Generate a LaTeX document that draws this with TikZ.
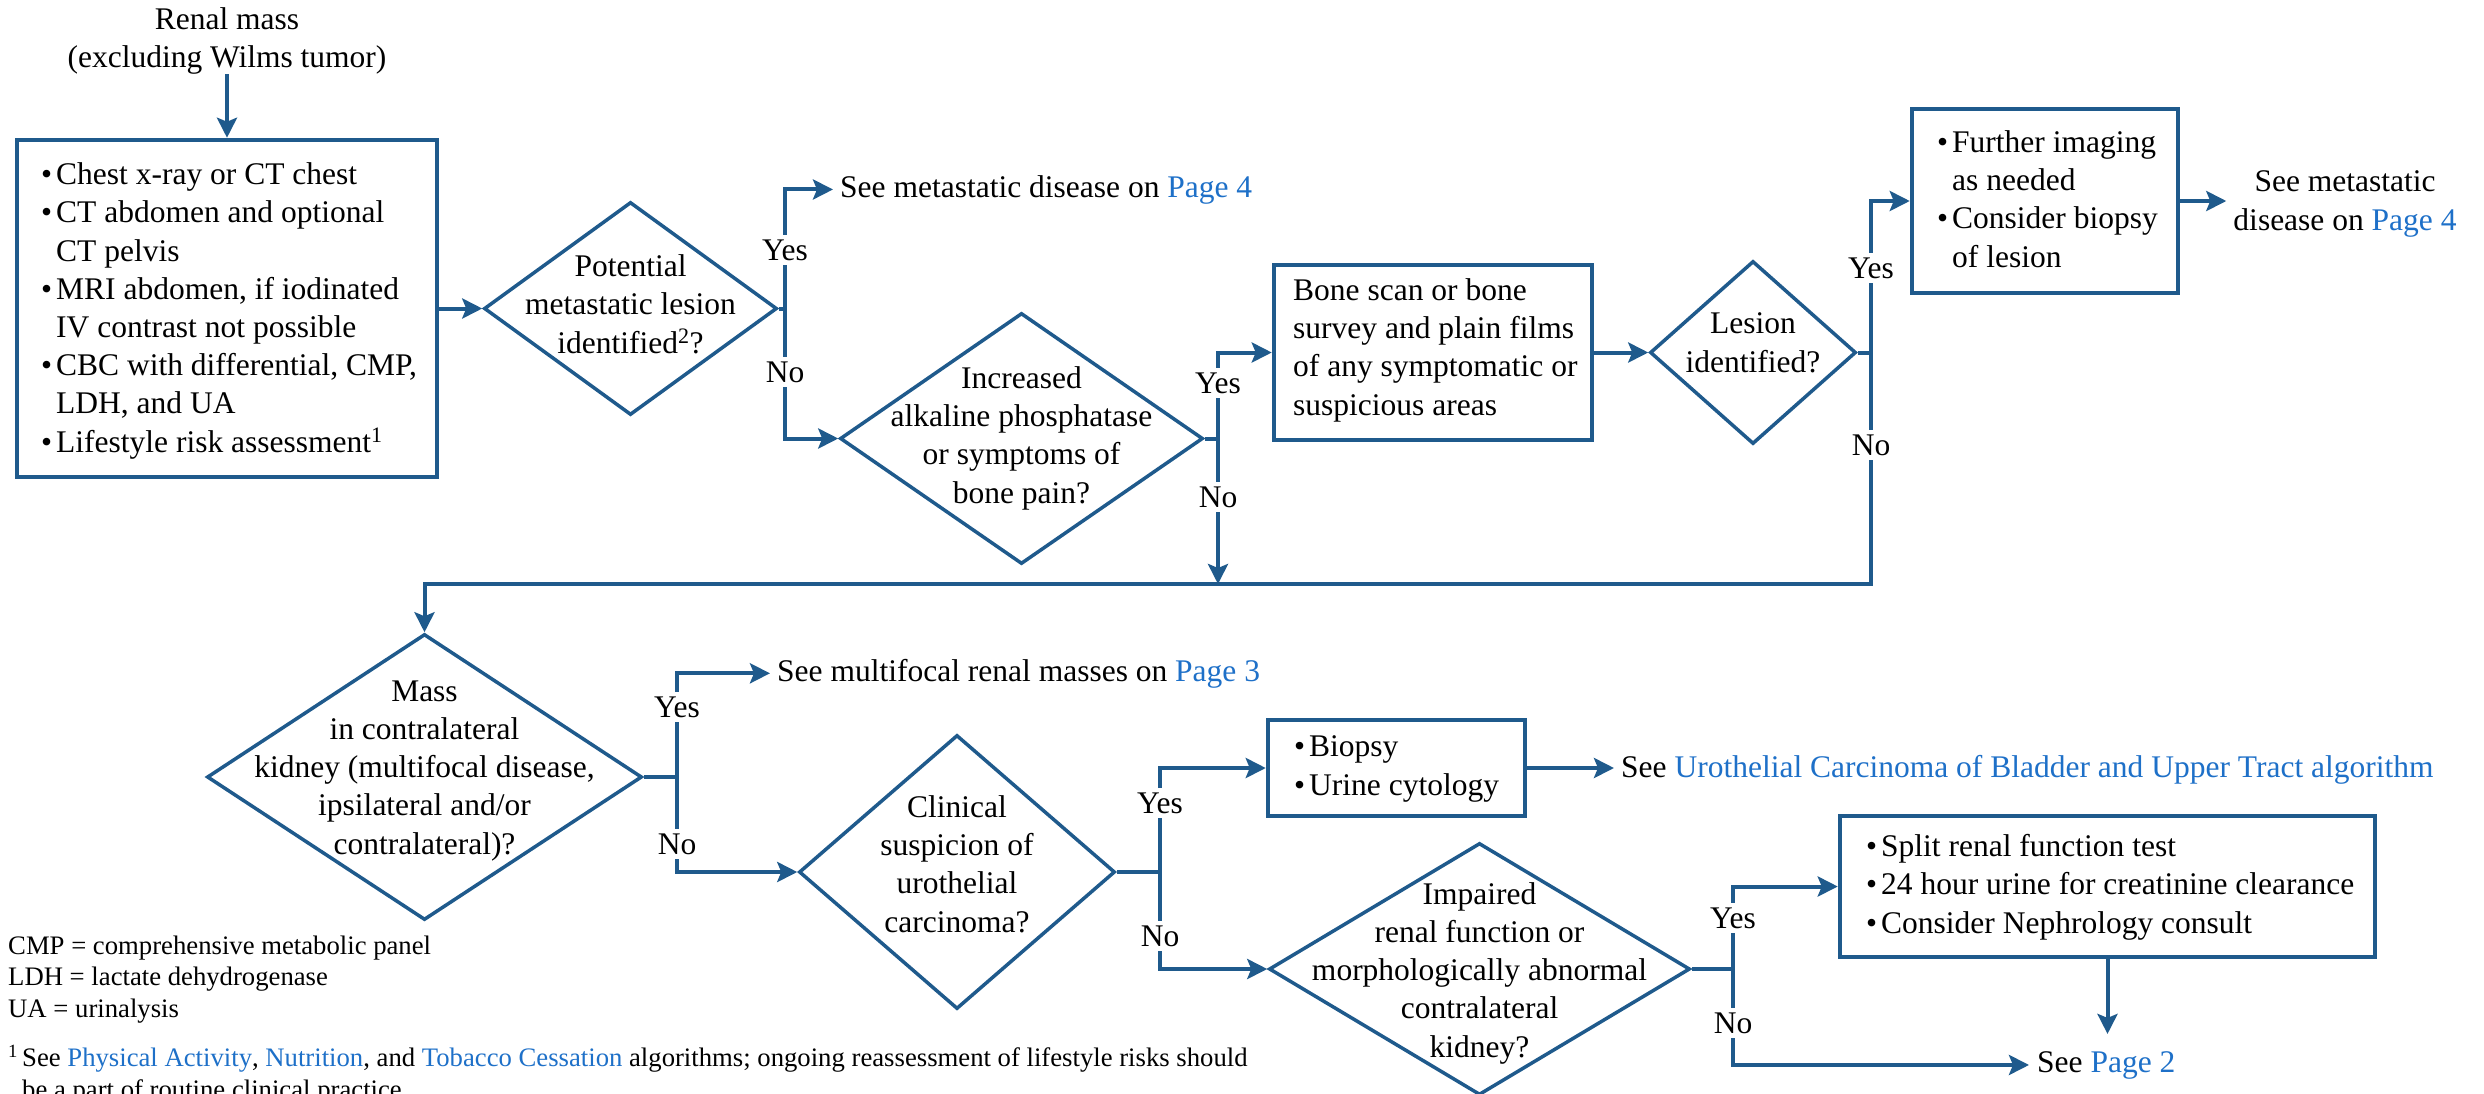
\documentclass[tikz,border=0pt]{standalone}
\usepackage{fontspec}
\setmainfont{Liberation Serif}
\usetikzlibrary{shapes.geometric,arrows.meta}
\definecolor{lc}{RGB}{31,90,140}
\definecolor{linkc}{RGB}{30,112,200}
\newcommand\lk[1]{\textcolor{linkc}{#1}}
\newcommand\bul{\makebox[15pt][l]{\textbullet}}
\newcommand\ind{\hspace*{15pt}}
\newcommand\mainsz{\fontsize{31.5pt}{38.2pt}\selectfont}
\newcommand\notesz{\fontsize{26.7pt}{31.5pt}\selectfont}

\begin{document}
\begin{tikzpicture}[x=1pt,y=-1pt,
  ln/.style={draw=lc, line width=4pt},
  arr/.style={draw=lc, line width=4pt, -{Stealth[length=20pt,width=20pt,inset=4pt]}},
  box/.style={draw=lc, line width=4.5pt, rectangle, inner sep=0pt},
  dia/.style={draw=lc, line width=3.5pt, diamond, inner sep=0pt},
  txt/.style={inner sep=0pt, align=left, font=\mainsz},
  lab/.style={fill=white, inner xsep=2pt, inner ysep=5pt, font=\mainsz}]
\useasboundingbox (0,0) rectangle (2484,1093);
\clip (0,0) rectangle (2484,1093);

% Multi-line text nodes are anchored at the baseline of their last line.

% ---- start and first work-up box
\node[txt, align=center, anchor=base] (start) at (227,67) {Renal mass\\[-1pt](excluding Wilms tumor)};
\node[box, minimum width=420pt, minimum height=337pt] (b1) at (227,308.5) {};
\node[txt, anchor=base west] (t1) at (41,452) {\bul Chest x-ray or CT chest\\ \bul CT abdomen and optional\\ \ind CT pelvis\\ \bul MRI abdomen, if iodinated\\ \ind IV contrast not possible\\ \bul CBC with differential, CMP,\\ \ind LDH, and UA\\ \bul Lifestyle risk assessment\textsuperscript{1}};
\draw[arr] (start.south) -- (b1.north);

% ---- potential metastatic lesion
\node[dia, minimum width=293pt, minimum height=213pt] (d1) at (630.5,308.5) {};
\node[txt, align=center, anchor=base] (d1t) at (630.5,353) {Potential\\metastatic lesion\\identified\textsuperscript{2}?};
\draw[arr] (b1.east) -- (d1.west);
\coordinate (j1) at (785,308.5);
\node[txt, anchor=base west, inner xsep=7pt] (s1) at (833,197) {See metastatic disease on \lk{Page 4}};

% ---- bone involvement
\node[dia, minimum width=363pt, minimum height=251pt] (d2) at (1021.5,438.5) {};
\node[txt, align=center, anchor=base] (d2t) at (1021.5,503) {Increased\\alkaline phosphatase\\or symptoms of\\bone pain?};
\coordinate (j2) at (1218,438.5);
\coordinate (m2) at (1218,584);
\node[box, minimum width=318pt, minimum height=175pt] (b2) at (1433,352.5) {};
\node[txt, anchor=base west] (t2) at (1293,415) {Bone scan or bone\\survey and plain films\\of any symptomatic or\\suspicious areas};

% ---- lesion identified
\node[dia, minimum width=206pt, minimum height=183pt] (d3) at (1753,352.5) {};
\node[txt, align=center, anchor=base] (d3t) at (1753,372) {Lesion\\identified?};
\coordinate (j3) at (1871,352.5);
\node[box, minimum width=266pt, minimum height=184pt] (b3) at (2045,201) {};
\node[txt, anchor=base west] (t3) at (1937,267) {\bul Further imaging\\ \ind as needed\\ \bul Consider biopsy\\ \ind of lesion};
\node[txt, align=center, anchor=base, inner xsep=7pt] (s2) at (2345,230) {See metastatic\\disease on \lk{Page 4}};

% ---- contralateral kidney
\node[dia, minimum width=435pt, minimum height=286pt] (d4) at (424.5,777) {};
\node[txt, align=center, anchor=base] (d4t) at (424.5,854) {Mass\\in contralateral\\kidney (multifocal disease,\\ipsilateral and/or\\contralateral)?};
\coordinate (j4) at (677,777);
\node[txt, anchor=base west, inner xsep=7pt] (s3) at (770,681) {See multifocal renal masses on \lk{Page 3}};

% ---- urothelial carcinoma
\node[dia, minimum width=316pt, minimum height=274pt] (d5) at (957,872) {};
\node[txt, align=center, anchor=base] (d5t) at (957,932) {Clinical\\suspicion of\\urothelial\\carcinoma?};
\coordinate (j5) at (1160,872);
\node[box, minimum width=257pt, minimum height=96pt] (b5) at (1396.5,768) {};
\node[txt, anchor=base west] (t5) at (1294,795) {\bul Biopsy\\ \bul Urine cytology};
\node[txt, anchor=base west, inner xsep=7pt] (s4) at (1614,777) {See \lk{Urothelial Carcinoma of Bladder and Upper Tract algorithm}};

% ---- renal function
\node[dia, minimum width=421pt, minimum height=252pt] (d6) at (1479.5,969) {};
\node[txt, align=center, anchor=base] (d6t) at (1479.5,1057) {Impaired\\renal function or\\morphologically abnormal\\contralateral\\kidney?};
\coordinate (j6) at (1733,969);
\node[box, minimum width=535pt, minimum height=141pt] (b6) at (2107.5,886.5) {};
\node[txt, anchor=base west] (t6) at (1866,933) {\bul Split renal function test\\ \bul 24 hour urine for creatinine clearance\\ \bul Consider Nephrology consult};
\node[txt, anchor=base west, inner xsep=8pt, inner ysep=17pt] (s5) at (2029,1072) {See \lk{Page 2}};

% ---- connectors
\draw[ln] (d1.east) -- (j1);
\draw[arr] (j1) |- (s1.west);
\draw[arr] (j1) |- (d2.west);
\draw[ln] (d2.east) -- (j2);
\draw[arr] (j2) |- (b2.west);
\draw[arr] (j2) -- (m2);
\draw[arr] (b2.east) -- (d3.west);
\draw[ln] (d3.east) -- (j3);
\draw[arr] (j3) |- (b3.west);
\draw[arr] (j3) -- (j3 |- m2) -| (d4.north);
\draw[arr] (b3.east) -- (b3.east -| s2.west);
\draw[ln] (d4.east) -- (j4);
\draw[arr] (j4) |- (s3.west);
\draw[arr] (j4) |- (d5.west);
\draw[ln] (d5.east) -- (j5);
\draw[arr] (j5) |- (b5.west);
\draw[arr] (j5) |- (d6.west);
\draw[arr] (b5.east) -- (b5.east -| s4.west);
\draw[ln] (d6.east) -- (j6);
\draw[arr] (j6) |- (b6.west);
\draw[arr] (j6) |- (s5.west);
\draw[arr] (b6.south) -- (b6.south |- s5.north);

% ---- branch labels
\node[lab] (y1) at (785,250) {Yes};
\node[lab] (n1) at (785,372) {No};
\node[lab] (y2) at (1218,383) {Yes};
\node[lab] (n2) at (1218,497) {No};
\node[lab] (y3) at (1871,268) {Yes};
\node[lab] (n3) at (1871,445) {No};
\node[lab] (y4) at (677,707) {Yes};
\node[lab] (n4) at (677,844) {No};
\node[lab] (y5) at (1160,803) {Yes};
\node[lab] (n5) at (1160,936) {No};
\node[lab] (y6) at (1733,918) {Yes};
\node[lab] (n6) at (1733,1023) {No};

% ---- abbreviations and footnote
\node[txt, anchor=base west, font=\notesz] (abbr) at (8,1017) {CMP = comprehensive metabolic panel\\LDH = lactate dehydrogenase\\UA = urinalysis};
\node[txt, anchor=base west, font=\notesz] (fn) at (8,1098) {\makebox[14pt][l]{\textsuperscript{1}}See \lk{Physical Activity}, \lk{Nutrition}, and \lk{Tobacco Cessation} algorithms; ongoing reassessment of lifestyle risks should\\ \hspace*{14pt}be a part of routine clinical practice.};
\end{tikzpicture}
\end{document}
